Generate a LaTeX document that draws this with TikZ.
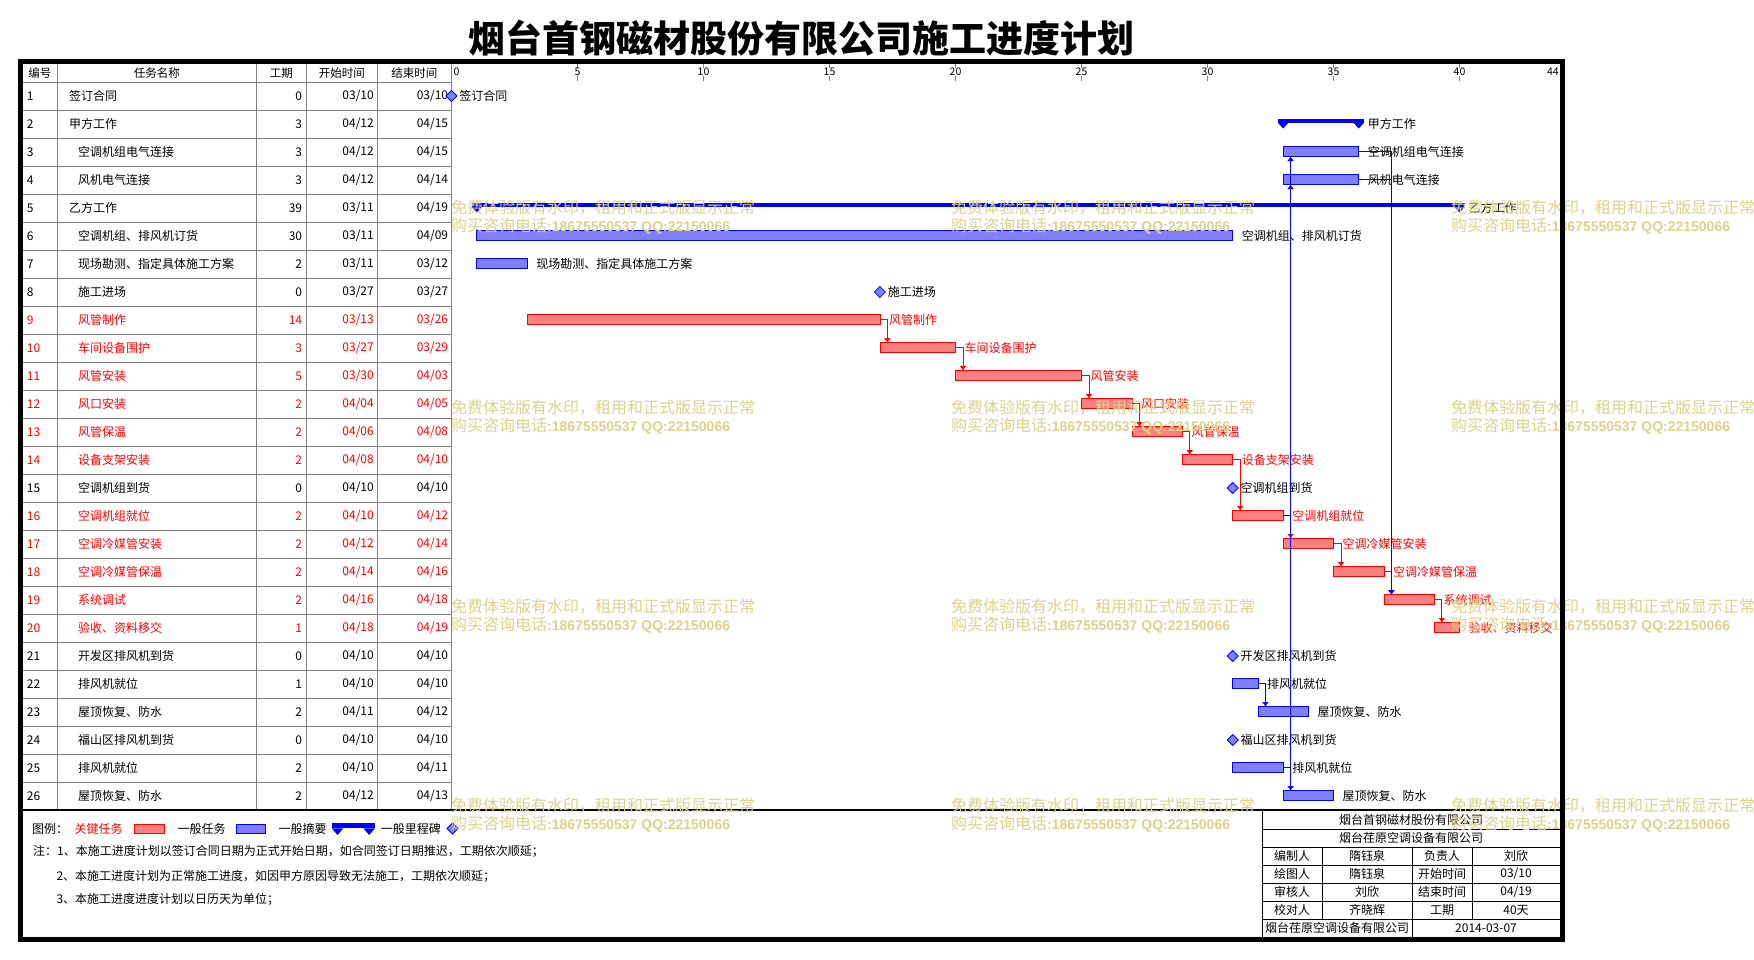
\documentclass[tikz,border=0pt]{standalone}
\usepackage{fontspec}
\setmainfont{Noto Sans CJK SC}
\newfontfamily\wmlatin{Liberation Sans}
\usetikzlibrary{shapes.geometric,positioning,calc,arrows.meta}
\definecolor{gridgray}{RGB}{128,128,128}
\definecolor{wmyellow}{RGB}{220,210,140}

\begin{document}
\begin{tikzpicture}
  [x=1pt, y=-1pt,
   cell/.style={inner sep=0pt, font=\fontsize{12}{14}\selectfont},
   headcell/.style={inner sep=0pt, font=\fontsize{11.5}{14}\selectfont},
   taskbar/.style={rectangle, draw, line width=0.8pt, inner sep=0pt, outer sep=0pt, minimum height=10pt},
   summarybar/.style={rectangle, fill=blue, inner sep=0pt, outer sep=0pt, minimum height=4.5pt},
   milestone/.style={diamond, draw=blue, fill=blue!50, line width=0.8pt, inner sep=0pt, outer sep=0pt,
     minimum width=11pt, minimum height=11pt},
   tasklabel/.style={anchor=west, inner sep=0pt, font=\fontsize{12}{14}\selectfont},
   link/.style={line width=1pt, -{Latex[length=4.5pt,width=7pt]}},
   grid/.style={draw=gridgray, line width=0.8pt},
   watermark/.style={anchor=west, inner sep=0pt, text=wmyellow, font=\fontsize{16}{18}\selectfont}
  ]
  \fill[white] (0,0) rectangle (1754,959);
  \useasboundingbox (0,0) rectangle (1754,959);

  \node[font=\fontsize{37}{40}\selectfont\bfseries] (title) at (801,38.5) {烟台首钢磁材股份有限公司施工进度计划};

  % tabella
  \draw[grid] (22.5,82) -- (451.5,82);
  \foreach \k in {1,...,25}
    \draw[grid] (22.5,{82+28*\k}) -- (451.5,{82+28*\k});
  \foreach \x in {57.3,256.3,306.3,377.3,451.5}
    \draw[grid] (\x,64) -- (\x,810);
  \draw[line width=1.2pt] (22.5,810) -- (1560,810);

  \node[headcell] (hnum) at (39.9,72.8) {编号};
  \node[headcell] (hname) at (156.8,72.8) {任务名称};
  \node[headcell] (hdur) at (281.3,72.8) {工期};
  \node[headcell] (hstart) at (341.8,72.8) {开始时间};
  \node[headcell] (hend) at (414.4,72.8) {结束时间};

  % scala dei giorni
  \node[headcell, font=\fontsize{10.5}{12}\selectfont, anchor=west] (day0) at (453.5,72) {0};
  \foreach \t in {5,10,...,40} {
    \draw[grid] ({451.5+25.2*\t},64) -- ++(0,17);
    \node[headcell, font=\fontsize{10.5}{12}\selectfont, fill=white] (day\t) at ({451.5+25.2*\t},72) {\t};
  }
  \node[headcell, font=\fontsize{10.5}{12}\selectfont, anchor=east] (day44) at (1559,72) {44};

  \foreach \i/\tname/\tx/\dur/\sd/\ed/\tc/\bc/\kind/\s
    [evaluate=\i as \cy using int(68+28*\i)] in {
      1/签订合同/69/0/{03/10}/{03/10}/black/blue/0/0,
      2/甲方工作/69/3/{04/12}/{04/15}/black/blue/2/33,
      3/空调机组电气连接/78/3/{04/12}/{04/15}/black/blue/1/33,
      4/风机电气连接/78/3/{04/12}/{04/14}/black/blue/1/33,
      5/乙方工作/69/39/{03/11}/{04/19}/black/blue/2/1,
      6/空调机组、排风机订货/78/30/{03/11}/{04/09}/black/blue/1/1,
      7/现场勘测、指定具体施工方案/78/2/{03/11}/{03/12}/black/blue/1/1,
      8/施工进场/78/0/{03/27}/{03/27}/black/blue/0/17,
      9/风管制作/78/14/{03/13}/{03/26}/red/red/1/3,
      10/车间设备围护/78/3/{03/27}/{03/29}/red/red/1/17,
      11/风管安装/78/5/{03/30}/{04/03}/red/red/1/20,
      12/风口安装/78/2/{04/04}/{04/05}/red/red/1/25,
      13/风管保温/78/2/{04/06}/{04/08}/red/red/1/27,
      14/设备支架安装/78/2/{04/08}/{04/10}/red/red/1/29,
      15/空调机组到货/78/0/{04/10}/{04/10}/black/blue/0/31,
      16/空调机组就位/78/2/{04/10}/{04/12}/red/red/1/31,
      17/空调冷媒管安装/78/2/{04/12}/{04/14}/red/red/1/33,
      18/空调冷媒管保温/78/2/{04/14}/{04/16}/red/red/1/35,
      19/系统调试/78/2/{04/16}/{04/18}/red/red/1/37,
      20/验收、资料移交/78/1/{04/18}/{04/19}/red/red/1/39,
      21/开发区排风机到货/78/0/{04/10}/{04/10}/black/blue/0/31,
      22/排风机就位/78/1/{04/10}/{04/10}/black/blue/1/31,
      23/屋顶恢复、防水/78/2/{04/11}/{04/12}/black/blue/1/32,
      24/福山区排风机到货/78/0/{04/10}/{04/10}/black/blue/0/31,
      25/排风机就位/78/2/{04/10}/{04/11}/black/blue/1/31,
      26/屋顶恢复、防水/78/2/{04/12}/{04/13}/black/blue/1/33} {
    \coordinate (row\i) at (451.5,\cy);
    \node[cell, anchor=west, text=\tc] (num\i) at (26.7,\cy) {\i};
    \node[cell, anchor=west, text=\tc] (name\i) at (\tx,\cy) {\tname};
    \node[cell, anchor=east, text=\tc] (dur\i) at (302.3,\cy) {\dur};
    \node[cell, anchor=east, text=\tc] (start\i) at (374,\cy) {\sd};
    \node[cell, anchor=east, text=\tc] (end\i) at (448.3,\cy) {\ed};
    \pgfmathsetmacro{\bx}{451.5+25.2*\s}
    \pgfmathsetmacro{\bw}{25.2*\dur}
    \pgfmathsetmacro{\sw}{25.2*\dur+10}
    \ifcase\kind\relax
      \node[milestone] (bar\i) at (\bx,\cy) {};
      \node[tasklabel, text=\tc] (lab\i) at ($(bar\i.center)+(7.7,0)$) {\tname};
    \or
      \node[taskbar, draw=\bc, fill=\bc!50, minimum width=\bw pt, anchor=west] (bar\i) at (\bx,\cy-0.5) {};
      \node[tasklabel, text=\tc] (lab\i) at ($(bar\i.east |- row\i)+(9,0)$) {\tname};
    \or
      \node[summarybar, minimum width=\sw pt, anchor=west] (bar\i) at (\bx-5,\cy-3.25) {};
      \fill[blue] (bar\i.south west) -- ++(10,0) -- ++(-5,5.5) -- cycle;
      \fill[blue] (bar\i.south east) -- ++(-10,0) -- ++(5,5.5) -- cycle;
      \node[tasklabel, text=\tc] (lab\i) at ($(bar\i.east |- row\i)+(4,0)$) {\tname};
    \fi
  }

  % collegamenti
  \foreach \a/\b in {9/10,10/11,11/12,12/13,13/14,14/16,16/17,17/18,18/19,19/20}
    \draw[link, red] (bar\a.east) -| ($(bar\b.north west)+(7.5,0)$);
  \foreach \a/\b in {3/19,4/19,22/23,25/26}
    \draw[link, blue] (bar\a.east) -| ($(bar\b.north west)+(7.5,0)$);
  \foreach \a/\b in {16/3,25/4}
    \draw[link, blue] (bar\a.east) -| ($(bar\b.south west)+(7.5,0)$);

  % legenda
  \node[cell, anchor=west] (legtitle) at (32,828.5) {图例：};
  \node[cell, anchor=west, text=red] (legcrit) at (74.3,828.5) {关键任务};
  \node[taskbar, draw=red, fill=red!50, minimum width=30pt, minimum height=9pt, anchor=west] (legcritbar) at (134,828.8) {};
  \node[cell, anchor=west] (legtask) at (177.3,828.5) {一般任务};
  \node[taskbar, draw=blue, fill=blue!50, minimum width=29.7pt, minimum height=9pt, anchor=west] (legtaskbar) at (236,828.8) {};
  \node[cell, anchor=west] (legsum) at (278.3,828.5) {一般摘要};
  \node[summarybar, minimum width=43.3pt, minimum height=5.3pt, anchor=north west] (legsumbar) at (331.7,823) {};
  \fill[blue] (legsumbar.south west) -- ++(11.6,0) -- ++(-5.8,6.7) -- cycle;
  \fill[blue] (legsumbar.south east) -- ++(-11.6,0) -- ++(5.8,6.7) -- cycle;
  \node[cell, anchor=west] (legmile) at (380.7,828.5) {一般里程碑};
  \node[milestone] (legmilestone) at (452.5,828.5) {};

  \node[cell, anchor=west] (note1) at (33,851.7) {注：1、本施工进度计划以签订合同日期为正式开始日期，如合同签订日期推迟，工期依次顺延；};
  \node[cell, anchor=west] (note2) at (56.3,876) {2、本施工进度计划为正常施工进度，如因甲方原因导致无法施工，工期依次顺延；};
  \node[cell, anchor=west] (note3) at (56.3,899.3) {3、本施工进度进度计划以日历天为单位；};

  % cartiglio
  \draw[line width=0.8pt] (1262,810) rectangle (1560,937);
  \foreach \y in {829,847,865,883,901,919}
    \draw[line width=0.8pt] (1262,\y) -- (1560,\y);
  \foreach \x in {1322,1412,1472}
    \draw[line width=0.8pt] (\x,847) -- (\x,919);
  \draw[line width=0.8pt] (1412,919) -- (1412,937);
  \node[cell] (client) at (1411,819.5) {烟台首钢磁材股份有限公司};
  \node[cell] (contractor) at (1411,838) {烟台荏原空调设备有限公司};
  \foreach \r/\ka/\va/\kb/\vb in {856/编制人/隋钰泉/负责人/刘欣, 874/绘图人/隋钰泉/开始时间/{03/10},
      892/审核人/刘欣/结束时间/{04/19}, 910/校对人/齐晓辉/工期/40天} {
    \node[cell] (ka\r) at (1292,\r) {\ka};
    \node[cell] (va\r) at (1367,\r) {\va};
    \node[cell] (kb\r) at (1442,\r) {\kb};
    \node[cell] (vb\r) at (1516,\r) {\vb};
  }
  \node[cell] (firm) at (1337,928) {烟台荏原空调设备有限公司};
  \node[cell] (date) at (1486,928) {2014-03-07};

  % filigrana
  \foreach \wx in {451,951,1451}
    \foreach \wy in {208,408,607,806} {
      \node[watermark] (wma\wx\wy) at (\wx,\wy) {免费体验版有水印，租用和正式版显示正常};
      \node[watermark] (wmb\wx\wy) at (\wx,\wy+18.5) {购买咨询电话{\wmlatin\bfseries\fontsize{14}{16}\selectfont :18675550537 QQ:22150066}};
    }

  \draw[line width=5pt] (20,61.5) rectangle (1562.5,939.5);
\end{tikzpicture}
\end{document}
